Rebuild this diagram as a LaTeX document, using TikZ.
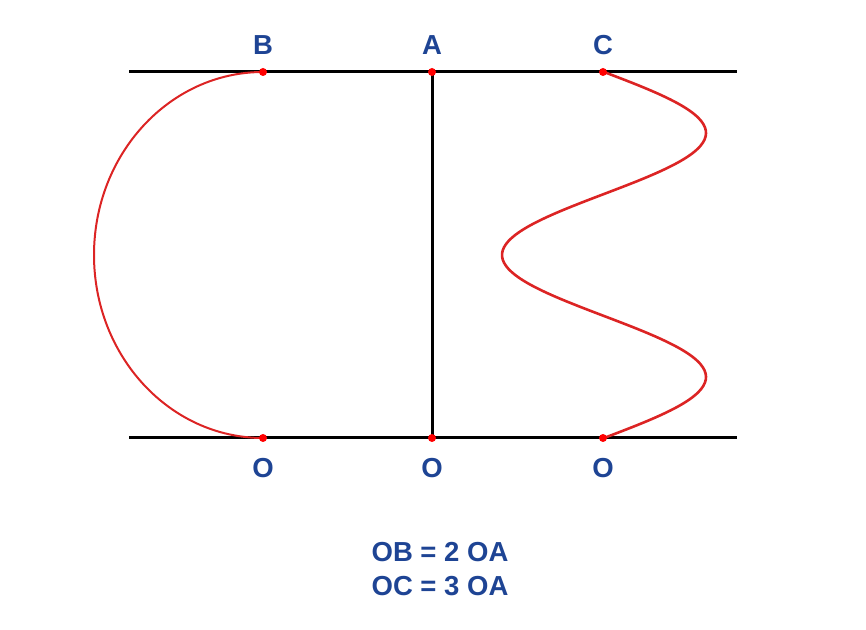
\documentclass[tikz,border=0pt]{standalone}
\usepackage{fontspec}
\setmainfont{Liberation Sans}
\definecolor{lblue}{RGB}{30,68,148}
\definecolor{cred}{RGB}{220,36,36}
\begin{document}
\begin{tikzpicture}[x=1pt,y=1pt,
    dot/.style={circle,fill=red,inner sep=0pt,minimum size=8pt},
    lbl/.style={text=lblue,font=\fontsize{27.5}{31}\selectfont\bfseries},
    bar/.style={line width=3pt,black}]
  \useasboundingbox (0,0) rectangle (866,629);
  \def\yt{557}
  \def\yb{191}
  % the two horizontal lines
  \coordinate (T0) at (129,\yt);
  \coordinate (T1) at (737,\yt);
  \coordinate (U0) at (129,\yb);
  \coordinate (U1) at (737,\yb);
  \coordinate (B) at (263,\yt);
  \coordinate (A) at (432,\yt);
  \coordinate (C) at (603,\yt);
  \coordinate (O1) at (263,\yb);
  \coordinate (O2) at (432,\yb);
  \coordinate (O3) at (603,\yb);
  \draw[bar] (T0) -- (T1);
  \draw[bar] (U0) -- (U1);
  \draw[bar] (A) -- (O2);
  % curves
  \draw[cred,line width=2pt] (B) arc[start angle=90,end angle=270,x radius=169,y radius=183];
  \draw[cred,line width=2.6pt,smooth,samples=120,variable=\t,domain=0:366]
    plot ({604+102*sin(\t/244*360)},{\yt-\t});
  % dots and letters
  \foreach \p in {B,A,C,O1,O2,O3}
    \node[dot] at (\p) {};
  \node[lbl] (lB) at (263,584) {B};
  \node[lbl] (lA) at (432,584) {A};
  \node[lbl] (lC) at (603,584) {C};
  \node[lbl] (lO1) at (263,161) {O};
  \node[lbl] (lO2) at (432,161) {O};
  \node[lbl] (lO3) at (603,161) {O};
  \node[lbl] (r1) at (440,77) {OB = 2 OA};
  \node[lbl] (r2) at (440,43) {OC = 3 OA};
\end{tikzpicture}
\end{document}
